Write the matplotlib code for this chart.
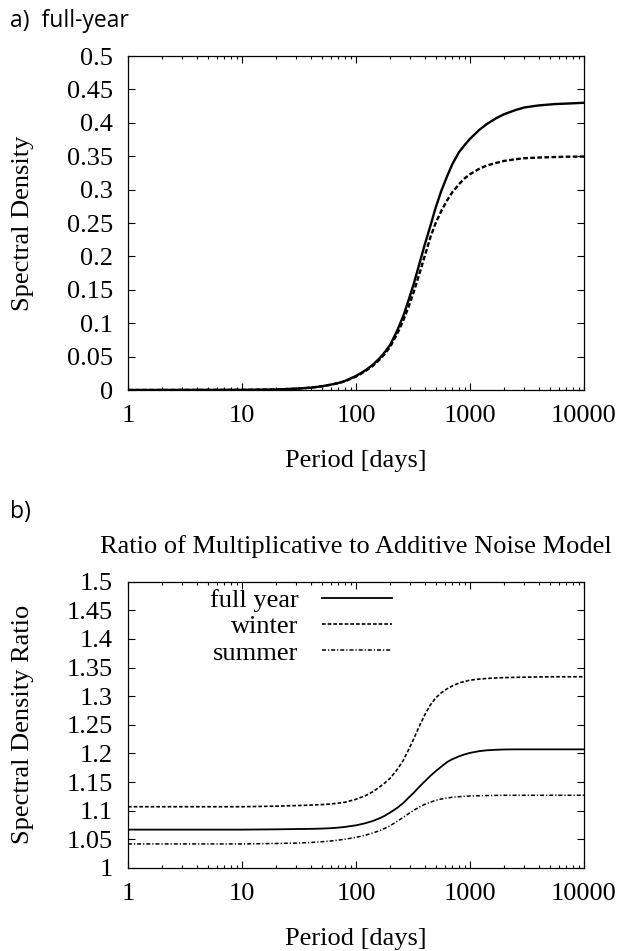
import numpy as np
import matplotlib
matplotlib.use('Agg')
import matplotlib.pyplot as plt
from matplotlib.ticker import LogLocator, NullFormatter, MultipleLocator, FormatStrFormatter, FuncFormatter

# period grid (days) shared by both panels
period = [1, 10, 20, 30, 40, 50, 60, 70, 80, 100, 120, 140, 160, 180, 200, 230, 260,
          290, 320, 360, 400, 450, 500, 560, 630, 700, 800, 900, 1000, 1200, 1400,
          1700, 2000, 2500, 3000, 4000, 5500, 7500, 10000]

# panel a) spectral density
sd_full = [0.0, 0.0002, 0.0008, 0.0020, 0.0035, 0.0055, 0.0080, 0.0105, 0.0135, 0.0210,
           0.0290, 0.0375, 0.0470, 0.0570, 0.0680, 0.0890, 0.1110, 0.1350, 0.1580, 0.1890,
           0.2170, 0.2460, 0.2730, 0.2980, 0.3200, 0.3380, 0.3560, 0.3670, 0.3760, 0.3890,
           0.3980, 0.4070, 0.4130, 0.4190, 0.4230, 0.4260, 0.4280, 0.4290, 0.4300]
sd_dash = [0.0, 0.0002, 0.0008, 0.0020, 0.0035, 0.0055, 0.0078, 0.0102, 0.0130, 0.0200,
           0.0280, 0.0360, 0.0450, 0.0545, 0.0650, 0.0840, 0.1040, 0.1250, 0.1460, 0.1740,
           0.2000, 0.2290, 0.2500, 0.2680, 0.2840, 0.2960, 0.3080, 0.3170, 0.3230, 0.3310,
           0.3360, 0.3400, 0.3430, 0.3455, 0.3470, 0.3480, 0.3488, 0.3493, 0.3495]

# panel b) ratio multiplicative / additive
ratio_full = [1.067, 1.067, 1.0675, 1.068, 1.0683, 1.0688, 1.0695, 1.0705, 1.0717, 1.0745,
              1.0780, 1.0820, 1.0865, 1.0915, 1.0970, 1.1050, 1.1135, 1.1230, 1.1310, 1.1420,
              1.1510, 1.1610, 1.1690, 1.1770, 1.1850, 1.1900, 1.1950, 1.1985, 1.2010, 1.2040,
              1.2055, 1.2065, 1.2070, 1.2072, 1.2072, 1.2072, 1.2072, 1.2072, 1.2072]
ratio_winter = [1.107, 1.107, 1.108, 1.109, 1.1098, 1.1107, 1.1118, 1.1132, 1.1148, 1.1200,
                1.1260, 1.1330, 1.1410, 1.1490, 1.1570, 1.1720, 1.1880, 1.2070, 1.2250, 1.2480,
                1.2670, 1.2850, 1.2970, 1.3060, 1.3130, 1.3180, 1.3230, 1.3260, 1.3280, 1.3300,
                1.3310, 1.3320, 1.3325, 1.3330, 1.3333, 1.3337, 1.3340, 1.3340, 1.3340]
ratio_summer = [1.042, 1.042, 1.0428, 1.0435, 1.0445, 1.0458, 1.0472, 1.0487, 1.0502, 1.0535,
                1.0570, 1.0610, 1.0650, 1.0695, 1.0740, 1.0815, 1.0885, 1.0950, 1.1005, 1.1065,
                1.1110, 1.1150, 1.1180, 1.1205, 1.1222, 1.1235, 1.1245, 1.1252, 1.1257, 1.1262,
                1.1265, 1.1268, 1.1270, 1.1270, 1.1270, 1.1270, 1.1270, 1.1270, 1.1270]

labels = ['full year', 'winter', 'summer']

SERIF = 'Liberation Serif'
FS = 19


def style_axes(ax, ymin, ymax):
    # gnuplot look: ticks inside, on all four sides
    ax.set_xscale('log')
    ax.set_xlim(1, 10000)
    ax.set_ylim(ymin, ymax)
    ax.xaxis.set_major_locator(LogLocator(base=10, numticks=10))
    ax.xaxis.set_minor_locator(LogLocator(base=10, subs=np.arange(2, 10), numticks=20))
    ax.xaxis.set_minor_formatter(NullFormatter())
    ax.xaxis.set_major_formatter(FormatStrFormatter('%d'))
    ax.yaxis.set_major_locator(MultipleLocator(0.05))
    # 0.50 -> 0.5, 1.00 -> 1
    ax.yaxis.set_major_formatter(FuncFormatter(lambda v, p: ('%.2f' % v).rstrip('0').rstrip('.')))
    ax.tick_params(which='both', direction='in', top=True, right=True, width=0.8)
    ax.tick_params(which='major', length=5)
    ax.tick_params(which='minor', length=2.5)
    ax.tick_params(axis='x', pad=11, labelsize=FS)
    ax.tick_params(axis='y', pad=11, labelsize=FS)
    for lab in ax.get_xticklabels() + ax.get_yticklabels():
        lab.set_family(SERIF)
    for sp in ax.spines.values():
        sp.set_linewidth(0.9)


def draw():
    fig = plt.figure(figsize=(6.27, 9.51), dpi=100)

    # ---- panel a
    ax1 = fig.add_axes([0.2041, 0.5899, 0.7273, 0.3512])
    ax1.plot(period, sd_full, color='black', lw=1.7)
    ax1.plot(period, sd_dash, color='black', lw=1.7, dashes=(2.0, 1.0))
    style_axes(ax1, 0, 0.5)
    ax1.set_xlabel('Period [days]', family=SERIF, fontsize=FS)
    ax1.set_ylabel('Spectral Density', family=SERIF, fontsize=FS)
    ax1.xaxis.set_label_coords(0.5, -0.18)
    ax1.yaxis.set_label_coords(-0.205, 0.5)

    # ---- panel b
    ax2 = fig.add_axes([0.2041, 0.0873, 0.7273, 0.3010])
    ax2.plot(period, ratio_full, color='black', lw=1.3, label=labels[0])
    ax2.plot(period, ratio_winter, color='black', lw=1.2, dashes=(2.2, 1.2), label=labels[1])
    ax2.plot(period, ratio_summer, color='black', lw=1.1, dashes=(2.6, 1.3, 0.8, 1.3), label=labels[2])
    style_axes(ax2, 1.0, 1.5)
    ax2.set_xlabel('Period [days]', family=SERIF, fontsize=FS)
    ax2.set_ylabel('Spectral Density Ratio', family=SERIF, fontsize=FS)
    ax2.xaxis.set_label_coords(0.5, -0.21)
    ax2.yaxis.set_label_coords(-0.205, 0.5)
    ax2.set_title('Ratio of Multiplicative to Additive Noise Model', family=SERIF,
                  fontsize=FS, pad=21)

    # legend: text on the left, sample on the right (gnuplot style)
    ax2.legend(loc='upper right', bbox_to_anchor=(0.578, 0.975), frameon=False,
               markerfirst=False, handlelength=2.65, handletextpad=0.87,
               labelspacing=0.1, borderpad=0, borderaxespad=0,
               prop={'family': SERIF, 'size': FS})

    # panel letters
    fig.text(10 / 627, 1 - 27 / 951, 'a)  full-year', family='Open Sans', fontsize=16.5,
             va='baseline', ha='left')
    fig.text(10 / 627, 1 - 518 / 951, 'b)', family='Open Sans', fontsize=16.5,
             va='baseline', ha='left')

    fig.savefig('out.png', dpi=100)


if __name__ == "__main__":
    draw()
